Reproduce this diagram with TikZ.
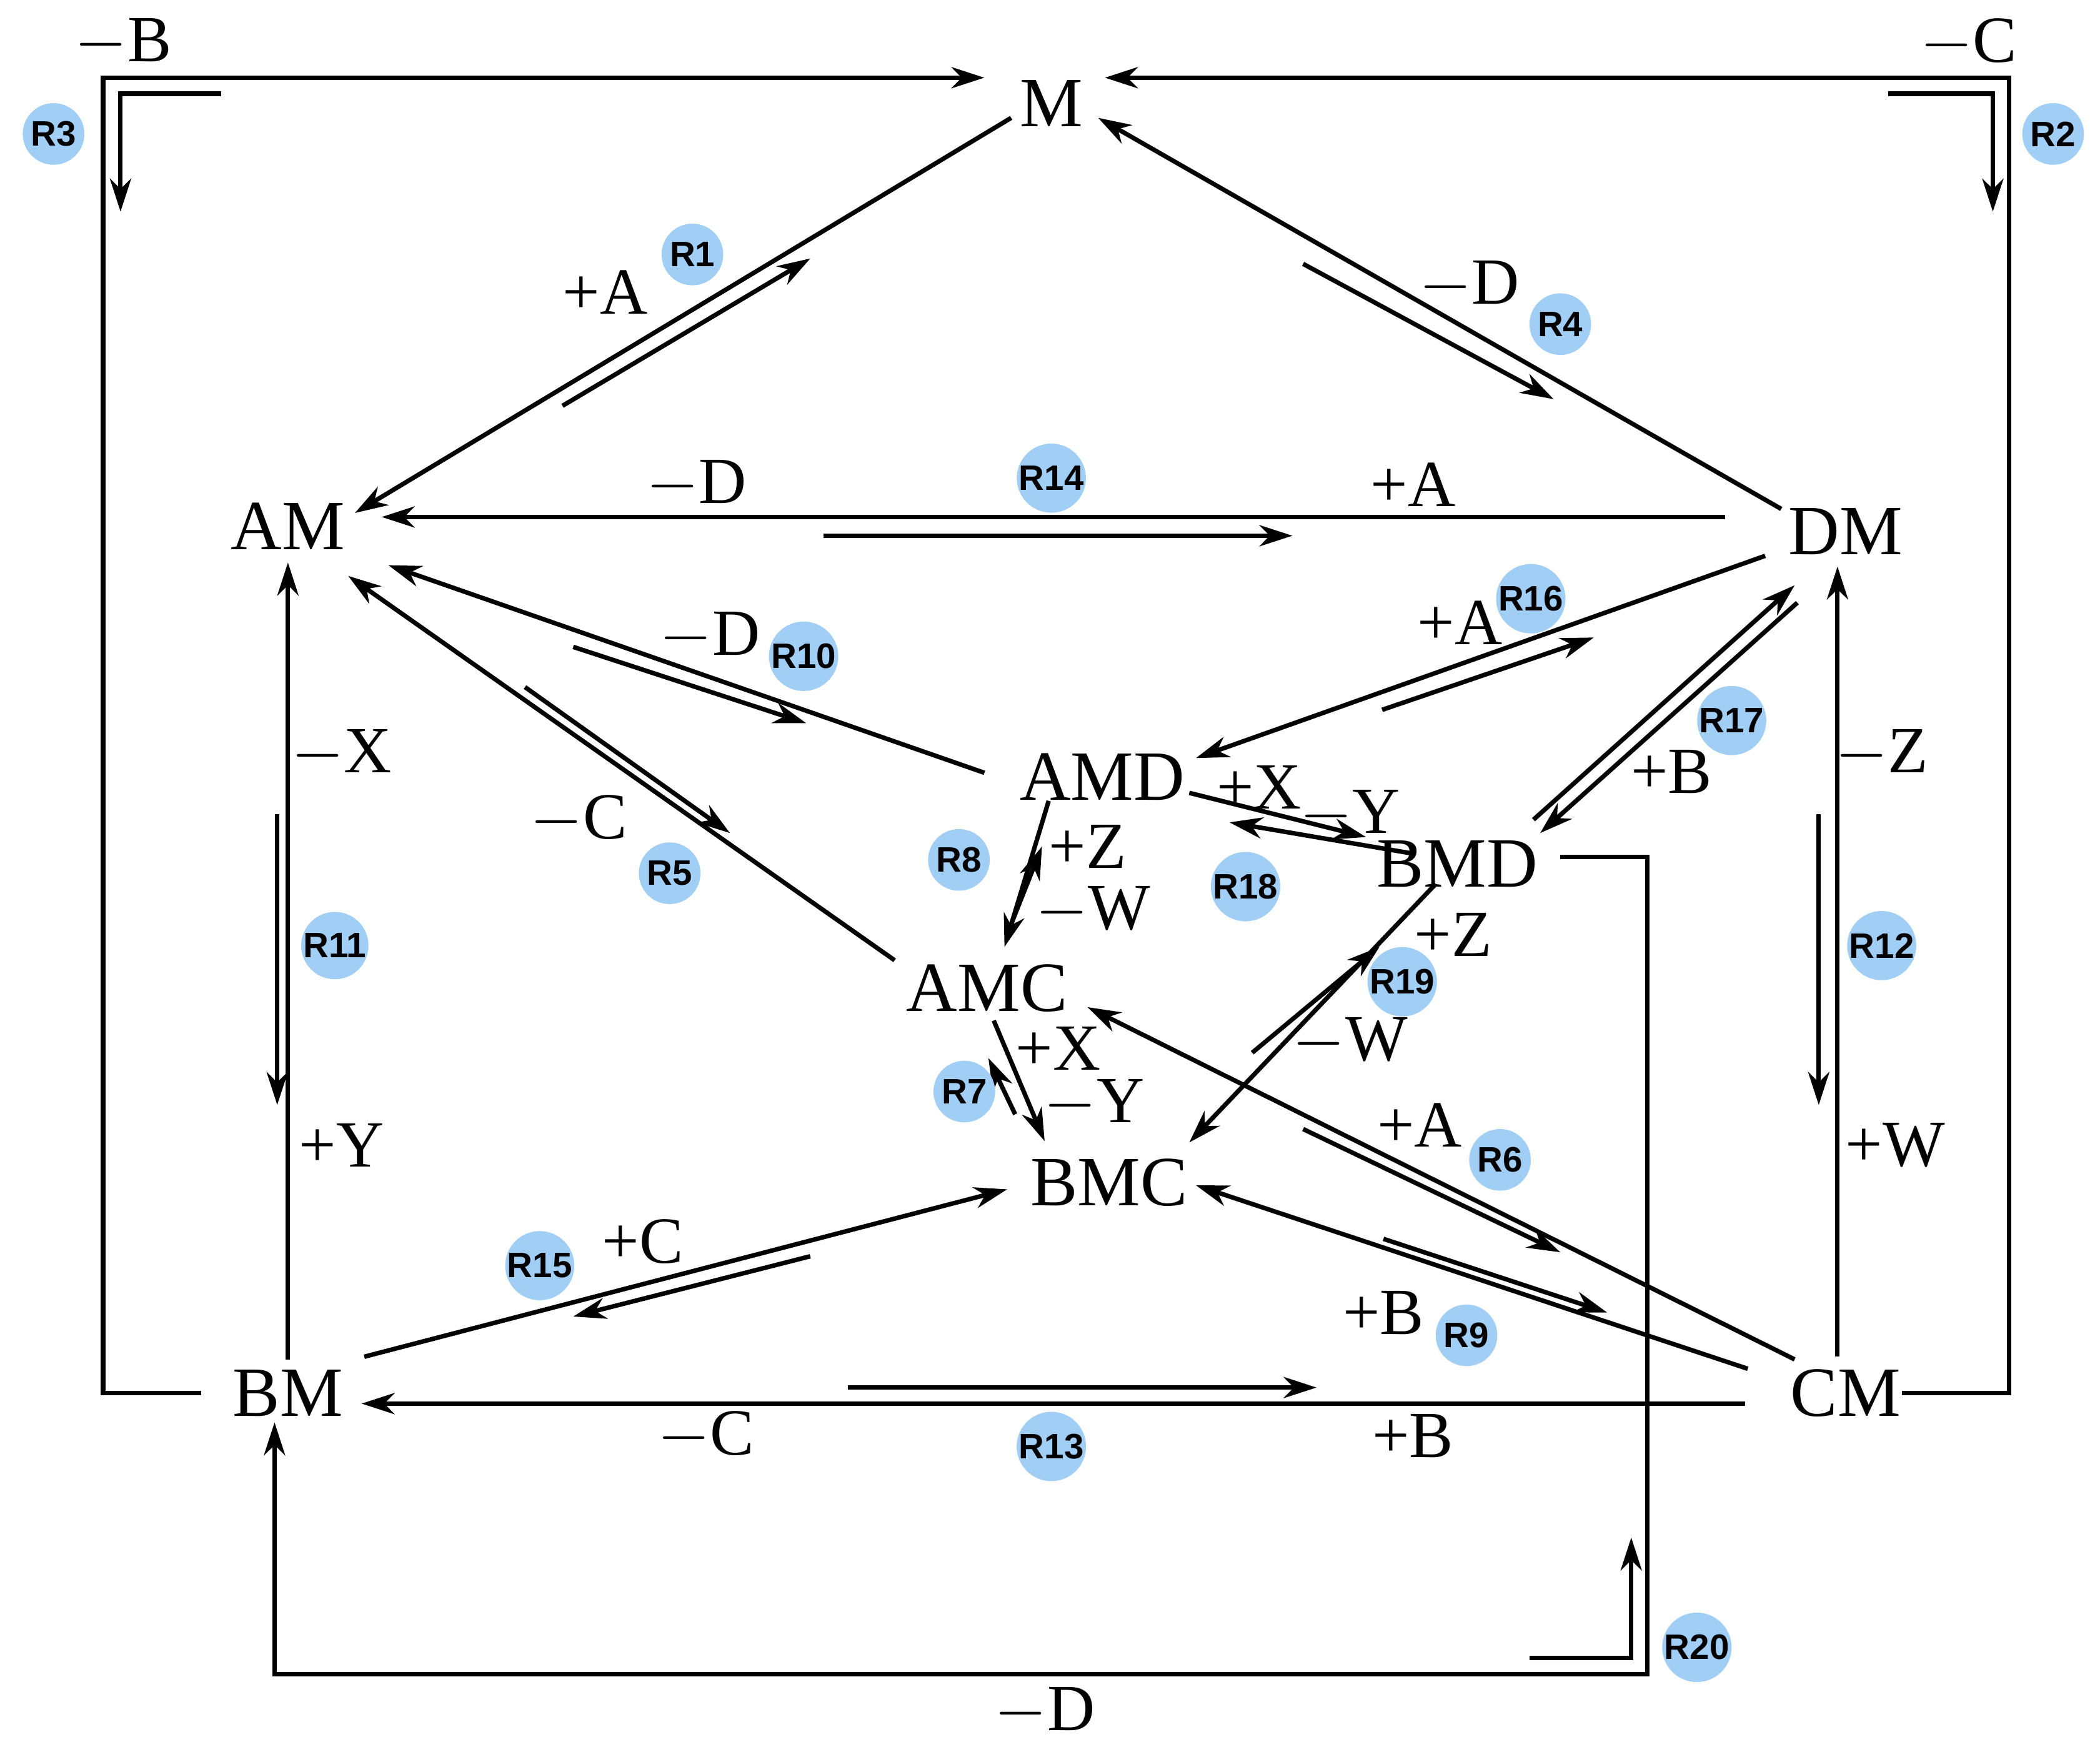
\documentclass[tikz,border=0pt]{standalone}
\usepackage{fontspec}
\setmainfont{Liberation Serif}
\newfontfamily\rfont{Liberation Sans}
\usetikzlibrary{arrows.meta}
\begin{document}
\begin{tikzpicture}[x={(0.01cm,0)},y={(0,-0.01cm)},
  ln/.style={line width=0.95pt,black},
  ar/.style={ln,-{Stealth[length=7pt,width=4.5pt,inset=2.2pt]}},
  sp/.style={font=\fontsize{15}{15}\selectfont,inner sep=0pt},
  lb/.style={font=\fontsize{14}{14}\selectfont,inner sep=0pt},
  rc/.style={circle,fill=rcol,minimum size=0.46cm,inner sep=0pt,font=\rfont\bfseries\fontsize{7.5}{7.5}\selectfont}]
\definecolor{rcol}{RGB}{160,206,245}
\useasboundingbox (0,0) rectangle (1568,1308);
% species
\node[sp] (M) at (785,77) {M};
\node[sp] (AM) at (215,393) {AM};
\node[sp] (DM) at (1378,397) {DM};
\node[sp] (AMD) at (823,580) {AMD};
\node[sp] (BMD) at (1088,645) {BMD};
\node[sp] (AMC) at (737,738) {AMC};
\node[sp] (BMC) at (828,883) {BMC};
\node[sp] (BM) at (215,1040) {BM};
\node[sp] (CM) at (1378,1040) {CM};
% R1
\draw[ar] (755,88) -- (265,383); \draw[ar] (420,303) -- (605,193);
\node[lb] at (452,218) {+A}; \node[rc] at (517,190) {R1};
% R4
\draw[ar] (1330,380) -- (820,88); \draw[ar] (973,197) -- (1160,298);
\node[lb] at (1097,213) {$-$D}; \node[rc] at (1165,242) {R4};
% R3
\draw[ar] (150,1040) -- (77,1040) -- (77,58) -- (735,58);
\draw[ar] (165,70) -- (90,70) -- (90,158);
\node[lb] at (92,32) {$-$B}; \node[rc] at (40,100) {R3};
% R2
\draw[ar] (1420,1040) -- (1500,1040) -- (1500,58) -- (825,58);
\draw[ar] (1410,70) -- (1488,70) -- (1488,158);
\node[lb] at (1470,32) {$-$C}; \node[rc] at (1533,100) {R2};
% R14
\draw[ar] (1288,386) -- (285,386); \draw[ar] (615,400) -- (965,400);
\node[lb] at (520,362) {$-$D}; \node[lb] at (1055,362) {+A}; \node[rc] at (785,357) {R14};
% R13
\draw[ar] (1303,1048) -- (270,1048); \draw[ar] (633,1036) -- (983,1036);
\node[lb] at (527,1072) {$-$C}; \node[lb] at (1055,1072) {+B}; \node[rc] at (785,1080) {R13};
% R11
\draw[ar] (215,1015) -- (215,420); \draw[ar] (207,608) -- (207,825);
\node[lb] at (255,563) {$-$X}; \node[lb] at (255,855) {+Y}; \node[rc] at (250,706) {R11};
% R12
\draw[ar] (1372,1013) -- (1372,423); \draw[ar] (1358,608) -- (1358,825);
\node[lb] at (1405,563) {$-$Z}; \node[lb] at (1415,855) {+W}; \node[rc] at (1405,706) {R12};
% R10
\draw[ar] (735,577) -- (290,422); \draw[ar] (428,483) -- (602,540);
\node[lb] at (530,475) {$-$D}; \node[rc] at (600,490) {R10};
% R5
\draw[ar] (668,717) -- (260,430); \draw[ar] (392,513) -- (545,622);
\node[lb] at (432,612) {$-$C}; \node[rc] at (500,652) {R5};
% R16
\draw[ar] (1318,415) -- (893,566); \draw[ar] (1032,530) -- (1190,476);
\node[lb] at (1090,465) {+A}; \node[rc] at (1143,447) {R16};
% R17
\draw[ar] (1145,612) -- (1340,437); \draw[ar] (1342,450) -- (1150,622);
\node[lb] at (1248,576) {+B}; \node[rc] at (1293,538) {R17};
% R18
\draw[ar] (888,592) -- (1020,625); \draw[ar] (1053,637) -- (918,614);
\node[lb] at (940,588) {+X}; \node[lb] at (1008,608) {$-$Y}; \node[rc] at (930,662) {R18};
% R8
\draw[ar] (783,598) -- (750,707); \draw[ar] (755,690) -- (778,632);
\node[lb] at (812,632) {+Z}; \node[lb] at (816,680) {$-$W}; \node[rc] at (716,642) {R8};
% R7
\draw[ar] (742,762) -- (780,852); \draw[ar] (758,832) -- (738,790);
\node[lb] at (790,783) {+X}; \node[lb] at (817,824) {$-$Y}; \node[rc] at (720,815) {R7};
% R19
\draw[ar] (1072,660) -- (888,853); \draw[ar] (935,786) -- (1030,707);
\node[lb] at (1085,698) {+Z}; \node[lb] at (1008,778) {$-$W}; \node[rc] at (1047,733) {R19};
% R6
\draw[ar] (1340,1015) -- (812,752); \draw[ar] (973,843) -- (1165,935);
\node[lb] at (1060,840) {+A}; \node[rc] at (1120,866) {R6};
% R9
\draw[ar] (1305,1022) -- (893,885); \draw[ar] (1033,925) -- (1200,980);
\node[lb] at (1033,980) {+B}; \node[rc] at (1095,997) {R9};
% R15
\draw[ar] (272,1013) -- (752,888); \draw[ar] (605,938) -- (428,983);
\node[lb] at (480,927) {+C}; \node[rc] at (403,945) {R15};
% R20
\draw[ar] (1165,640) -- (1230,640) -- (1230,1250) -- (205,1250) -- (205,1062);
\draw[ar] (1142,1238) -- (1218,1238) -- (1218,1148);
\node[lb] at (780,1278) {$-$D}; \node[rc] at (1267,1230) {R20};
\end{tikzpicture}
\end{document}
